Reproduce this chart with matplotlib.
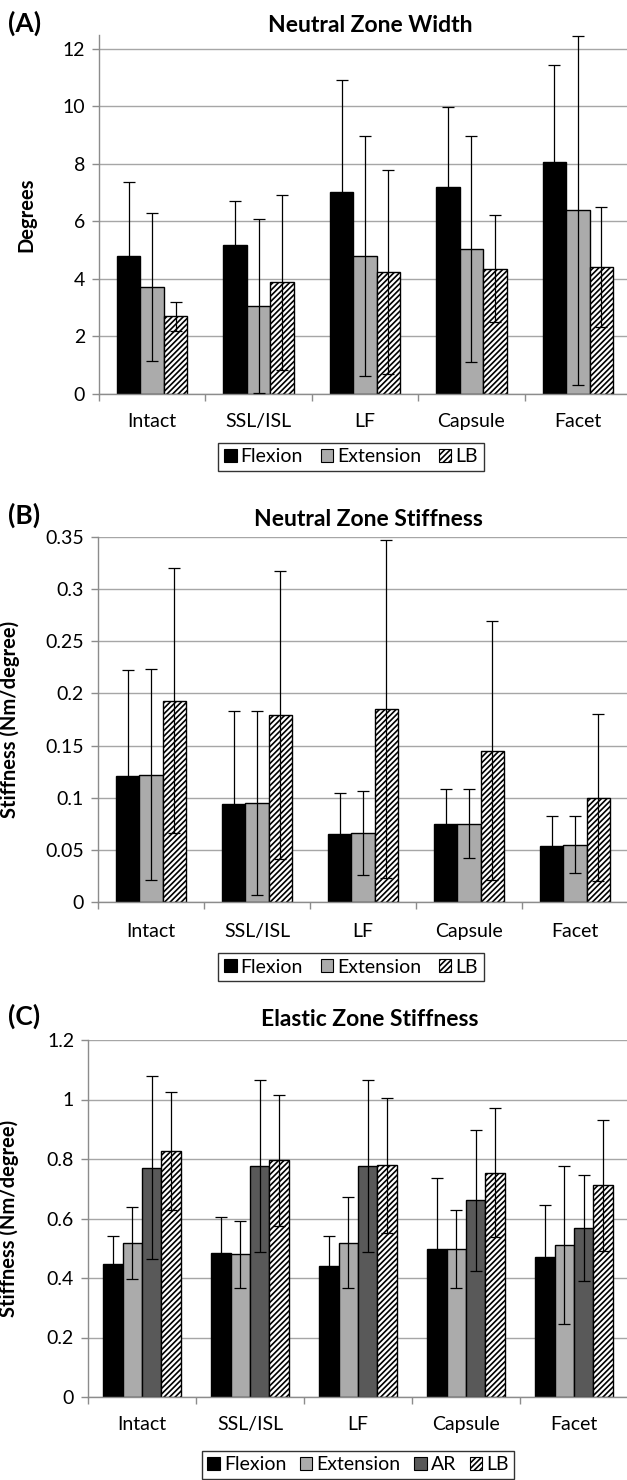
import matplotlib
matplotlib.use('Agg')
import matplotlib.pyplot as plt
import numpy as np
from matplotlib.patches import Patch

plt.rcParams['font.family'] = ['Lato', 'DejaVu Sans']
plt.rcParams['hatch.linewidth'] = 1.2

categories = ['Intact', 'SSL/ISL', 'LF', 'Capsule', 'Facet']

# (A) Neutral zone width, degrees
nzw_flex = [4.79, 5.17, 7.03, 7.19, 8.07]
nzw_flex_sd = [2.57, 1.53, 3.90, 2.78, 3.36]
nzw_ext = [3.72, 3.07, 4.81, 5.06, 6.39]
nzw_ext_sd = [2.57, 3.02, 4.17, 3.93, 6.06]
nzw_lb = [2.70, 3.88, 4.24, 4.35, 4.42]
nzw_lb_sd = [0.50, 3.05, 3.56, 1.86, 2.10]

# (B) Neutral zone stiffness, Nm/degree
nzs_flex = [0.121, 0.094, 0.065, 0.075, 0.054]
nzs_flex_sd = [0.101, 0.089, 0.040, 0.033, 0.028]
nzs_ext = [0.122, 0.095, 0.066, 0.075, 0.055]
nzs_ext_sd = [0.101, 0.088, 0.040, 0.033, 0.027]
nzs_lb = [0.193, 0.179, 0.185, 0.145, 0.100]
nzs_lb_sd = [0.127, 0.138, 0.162, 0.124, 0.080]

# (C) Elastic zone stiffness, Nm/degree
ezs_flex = [0.448, 0.485, 0.442, 0.499, 0.472]
ezs_flex_sd = [0.093, 0.120, 0.100, 0.236, 0.172]
ezs_ext = [0.516, 0.480, 0.519, 0.499, 0.511]
ezs_ext_sd = [0.121, 0.113, 0.153, 0.131, 0.267]
ezs_ar = [0.771, 0.777, 0.777, 0.661, 0.568]
ezs_ar_sd = [0.308, 0.288, 0.288, 0.237, 0.179]
ezs_lb = [0.826, 0.795, 0.779, 0.754, 0.711]
ezs_lb_sd = [0.198, 0.219, 0.227, 0.216, 0.219]

W, H = 627, 1480
fig = plt.figure(figsize=(W / 100, H / 100), dpi=100)

styles = {
    'Flexion': dict(color='black', hatch=None),
    'Extension': dict(color='#ababab', hatch=None),
    'AR': dict(color='#595959', hatch=None),
    'LB': dict(color='white', hatch='//////'),
}

TICK_FS = 14


def px_axes(left, right, top, bottom):
    return fig.add_axes([left / W, 1 - bottom / H, (right - left) / W, (bottom - top) / H])


def panel(ax, series, ylim, yticks, bw, ylabel, label_pad):
    x = np.arange(len(categories))
    n = len(series)
    for i, (name, vals, sd) in enumerate(series):
        st = styles[name]
        off = (i - (n - 1) / 2) * bw
        ax.bar(x + off, vals, bw, color=st['color'], edgecolor='black', linewidth=1.0,
               hatch=st['hatch'], zorder=2)
        ax.errorbar(x + off, vals, yerr=sd, fmt='none', ecolor='black', elinewidth=0.9,
                    capsize=4, capthick=0.9, zorder=3)
    ax.set_xlim(-0.5, len(categories) - 0.5)
    ax.set_ylim(*ylim)
    ax.set_yticks(yticks)
    ax.set_yticklabels([f'{t:g}' for t in yticks])
    ax.set_xticks(x)
    ax.set_xticklabels(categories)
    ax.set_xticks(np.arange(-0.5, len(categories)), minor=True)
    ax.tick_params(axis='x', which='major', length=0, pad=label_pad, labelsize=TICK_FS)
    ax.tick_params(axis='x', which='minor', length=5, color='#8c8c8c', width=1)
    ax.tick_params(axis='y', length=5, color='#8c8c8c', width=1, pad=5, labelsize=TICK_FS)
    ax.yaxis.grid(True, color='#a6a6a6', linewidth=1.0, zorder=0)
    ax.set_axisbelow(True)
    for s in ['top', 'right']:
        ax.spines[s].set_visible(False)
    for s in ['left', 'bottom']:
        ax.spines[s].set_color('#8c8c8c')
        ax.spines[s].set_linewidth(1.0)
    ax.set_ylabel(ylabel, fontsize=14.5, fontweight='bold')


def legend(names, cx, cy, spacing):
    handles = [Patch(facecolor=styles[n]['color'], edgecolor='black', linewidth=0.8,
                     hatch=styles[n]['hatch']) for n in names]
    leg = fig.legend(handles, names, loc='center', bbox_to_anchor=(cx / W, 1 - cy / H),
                     ncol=len(names), frameon=True, fancybox=False, fontsize=14,
                     handlelength=0.65, handleheight=0.65, handletextpad=0.2,
                     columnspacing=spacing, borderpad=0.3, borderaxespad=0)
    leg.get_frame().set_edgecolor('black')
    leg.get_frame().set_linewidth(1.0)


# panel A
axA = px_axes(99, 631, 34.6, 394)
panel(axA, [('Flexion', nzw_flex, nzw_flex_sd), ('Extension', nzw_ext, nzw_ext_sd),
            ('LB', nzw_lb, nzw_lb_sd)],
      (0, 12.5), [0, 2, 4, 6, 8, 10, 12], 0.22, 'Degrees', 14)
axA.yaxis.set_label_coords(-(99 - 36) / 532, 0.5)
fig.text(370 / W, 1 - 25 / H, 'Neutral Zone Width', ha='center', va='center',
         fontsize=16.5, fontweight='bold')
fig.text(8 / W, 1 - 23 / H, '(A)', ha='left', va='center', fontsize=19, fontweight='bold')
legend(['Flexion', 'Extension', 'LB'], 351, 457, 0.9)

# panel B
axB = px_axes(98, 628, 537, 902)
panel(axB, [('Flexion', nzs_flex, nzs_flex_sd), ('Extension', nzs_ext, nzs_ext_sd),
            ('LB', nzs_lb, nzs_lb_sd)],
      (0, 0.35), [0, 0.05, 0.1, 0.15, 0.2, 0.25, 0.3, 0.35], 0.22,
      'Stiffness (Nm/degree)', 15)
axB.yaxis.set_label_coords(-(98 - 20) / 530, 0.5)
fig.text(368 / W, 1 - 520 / H, 'Neutral Zone Stiffness', ha='center', va='center',
         fontsize=16.5, fontweight='bold')
fig.text(8 / W, 1 - 515 / H, '(B)', ha='left', va='center', fontsize=19, fontweight='bold')
legend(['Flexion', 'Extension', 'LB'], 351, 967, 0.9)

# panel C
axC = px_axes(88, 628, 1040, 1397)
panel(axC, [('Flexion', ezs_flex, ezs_flex_sd), ('Extension', ezs_ext, ezs_ext_sd),
            ('AR', ezs_ar, ezs_ar_sd), ('LB', ezs_lb, ezs_lb_sd)],
      (0, 1.2), [0, 0.2, 0.4, 0.6, 0.8, 1.0, 1.2], 0.18,
      'Stiffness (Nm/degree)', 14)
axC.yaxis.set_label_coords(-(88 - 19) / 540, 0.5)
fig.text(370 / W, 1 - 1019 / H, 'Elastic Zone Stiffness', ha='center', va='center',
         fontsize=16.5, fontweight='bold')
fig.text(8 / W, 1 - 1016 / H, '(C)', ha='left', va='center', fontsize=19, fontweight='bold')
legend(['Flexion', 'Extension', 'AR', 'LB'], 358, 1465, 0.7)

fig.savefig('out.png', dpi=100)
